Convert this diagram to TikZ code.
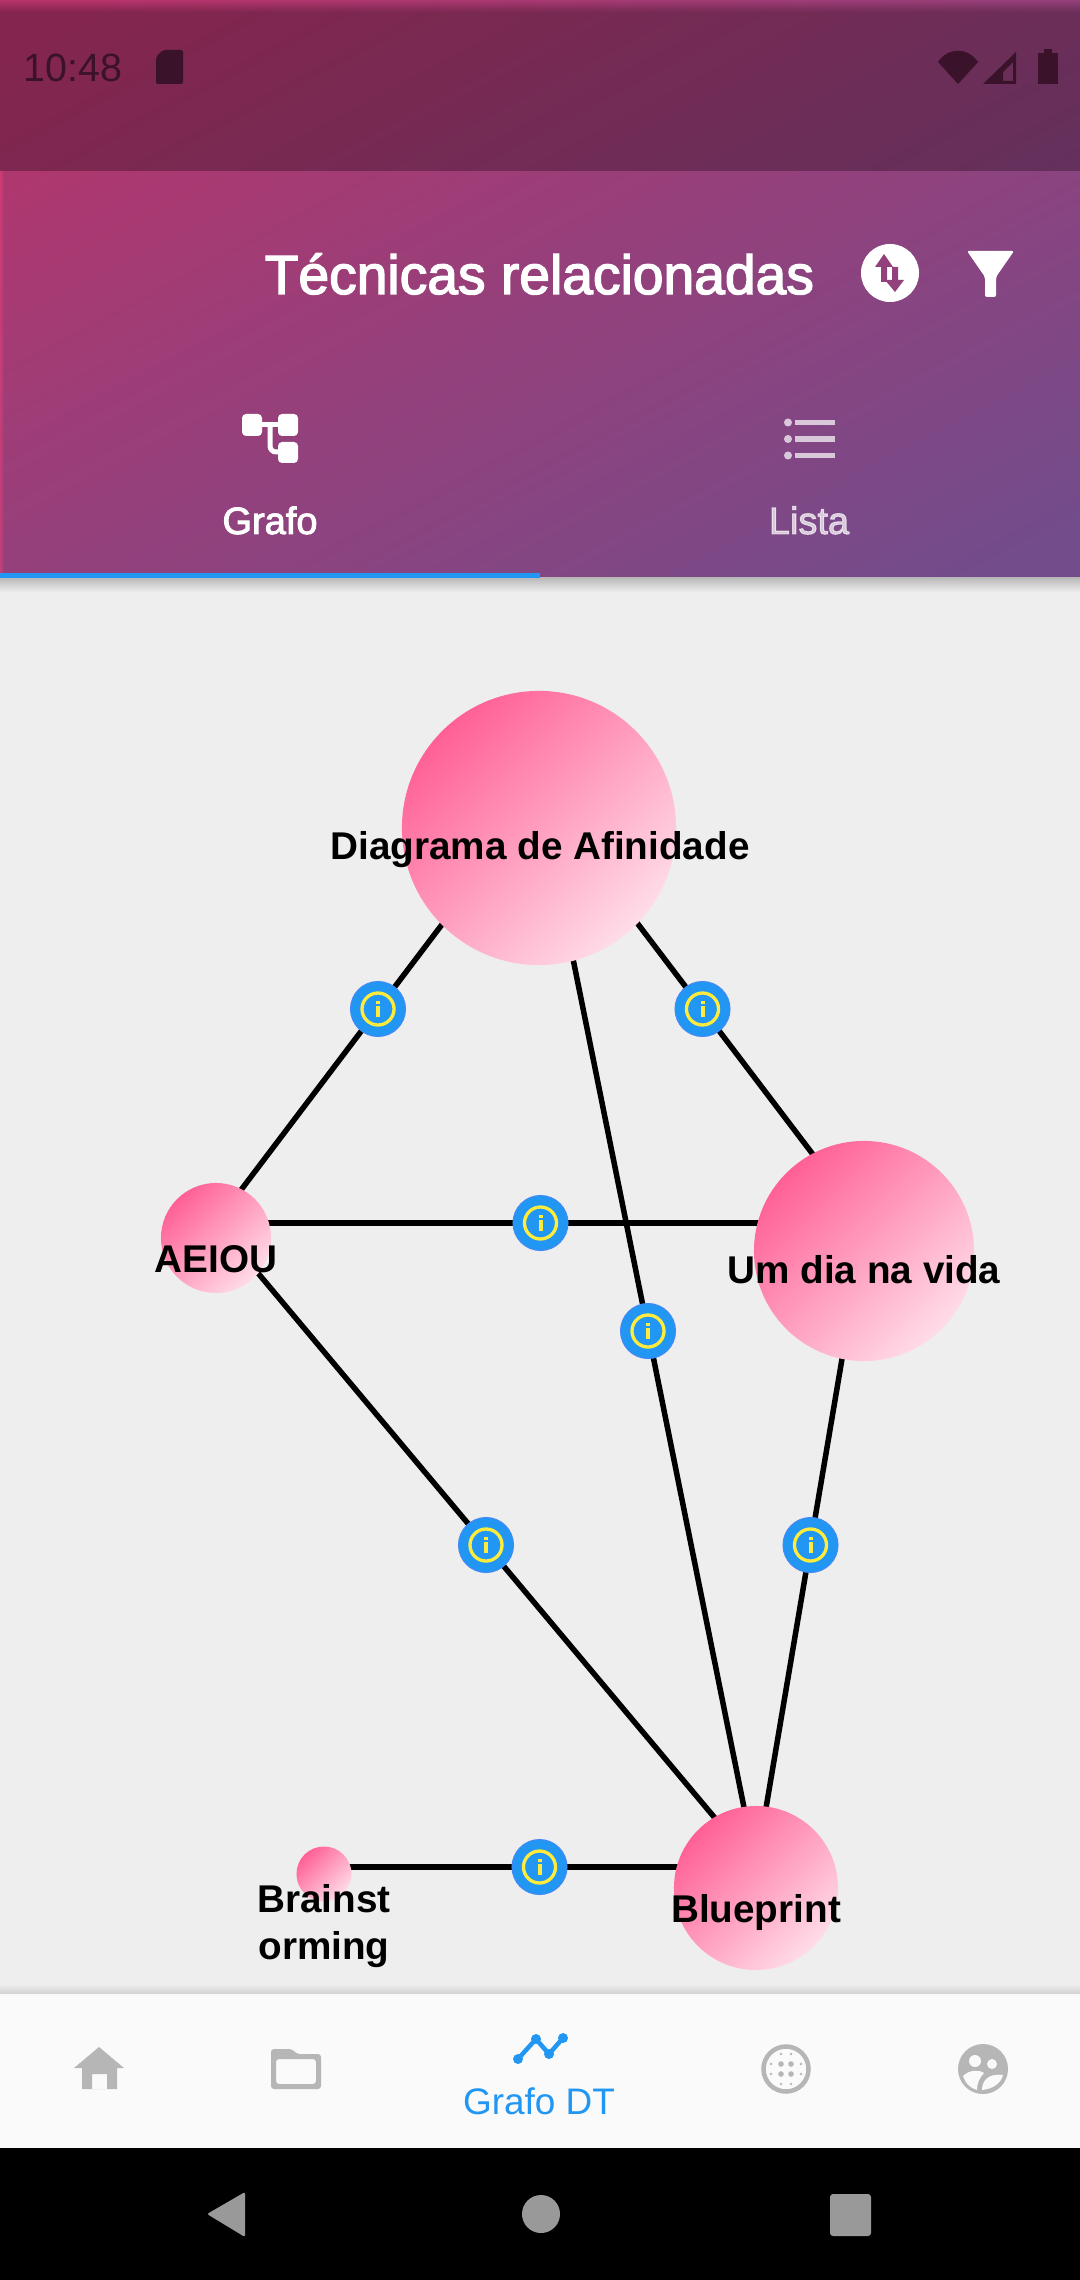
\documentclass[tikz,border=0pt]{standalone}
\usepackage{fontspec}
\usepackage{tikz}
\usetikzlibrary{calc}
\usetikzlibrary{positioning}
\usetikzlibrary{fadings}
\setmainfont{Liberation Sans}
\newfontface\mediumface[FakeBold=2.5]{Liberation Sans}
\definecolor{page-gray}{HTML}{EEEEEE}
\definecolor{nav-white}{HTML}{FAFAFA}
\definecolor{head-pink}{HTML}{B8346B}
\definecolor{head-purple}{HTML}{724C8B}
\definecolor{head-edge}{HTML}{E0407A}
\definecolor{status-ink}{HTML}{3A1229}
\definecolor{accent-blue}{HTML}{2196F3}
\definecolor{badge-ring}{HTML}{448AF5}
\definecolor{badge-yellow}{HTML}{FFEB3B}
\definecolor{icon-gray}{HTML}{B6B6B6}
\definecolor{sys-gray}{HTML}{999999}
\definecolor{bubble-deep}{HTML}{FF6096}
\definecolor{bubble-pale}{HTML}{FFDCE8}
\tikzset{
  wire/.style={line width=0.055cm, black},
  bubble/.style={circle, inner sep=0, left color=bubble-deep, right color=bubble-pale, shading angle=45},
  bubbletext/.style={font=\bfseries\fontsize{11}{13.6}\selectfont, align=center, inner sep=0},
  infobadge/.style={circle, inner sep=0, minimum size=0.55cm, fill=accent-blue, draw=badge-ring, line width=0.01cm,
    path picture={
      \draw[badge-yellow, line width=0.033cm] (path picture bounding box.center) circle (0.16cm);
      \fill[badge-yellow] ($ (path picture bounding box.center) + (-2, -8) $) rectangle ++(4, 3);
      \fill[badge-yellow] ($ (path picture bounding box.center) + (-2, -3) $) rectangle ++(4, 11);
    }},
  tabtext/.style={font=\mediumface\fontsize{10.8}{12}\selectfont, inner sep=0, anchor=base},
}

\begin{document}
\begin{tikzpicture}[x=0.01cm, y=-0.01cm]
\useasboundingbox (0, 0) rectangle (1080, 2280);
% Page
\fill[page-gray] (0, 0) rectangle (1080, 2280);

% ---------------------------------------------------
% Header - Status bar
\begin{scope}
  \clip (0, 0) rectangle (1080, 578);
  \shade[left color=head-pink, right color=head-purple, shading angle=28] (-135, -72) rectangle (1215, 650);
\end{scope}
\fill[black, opacity=0.28] (0, 12) rectangle (1080, 171);
\fill[black, opacity=0.28, path fading=north] (0, 0) rectangle (1080, 12);
\shade[top color=black!22!page-gray, bottom color=page-gray] (0, 578) rectangle (1080, 592);
\fill[head-edge, opacity=0.6, path fading=east] (0, 171) rectangle (4, 578);

\node[font=\fontsize{11.2}{12}\selectfont, text=status-ink, anchor=base west, inner sep=0] (clock) at (23, 82) {10:48};
\fill[status-ink, rounded corners=0.02cm] (163, 50) -- (183, 50) -- (183, 84) -- (156, 84) -- (156, 57) -- cycle;
\fill[status-ink] (938, 62) .. controls (948, 47) and (968, 47) .. (978, 62) -- (958, 84) -- cycle;
\fill[status-ink, even odd rule] (983, 84) -- (1016, 84) -- (1016, 52) -- cycle
     (1003, 81) -- (1013, 81) -- (1013, 62) -- (1003, 72) -- cycle;
\fill[status-ink] (1038, 53) rectangle (1058, 84);
\fill[status-ink] (1044, 49) rectangle (1052, 53);

% Title - actions
\node[font=\mediumface\fontsize{15.7}{18}\selectfont, text=white, anchor=base west, inner sep=0] (title) at (264, 294) {Técnicas relacionadas};
\fill[white] (890, 273) circle (0.29cm);
\fill[head-pink!45!head-purple] (884, 254) -- (893, 267) -- (887, 267) -- (887, 282) -- (881, 282) -- (881, 267) -- (875, 267) -- cycle;
\fill[head-pink!45!head-purple] (895, 292) -- (904, 280) -- (898, 280) -- (898, 267) -- (892, 267) -- (892, 280) -- (885, 280) -- cycle;
\fill[white, rounded corners=0.02cm] (967, 251) -- (1014, 251) -- (996, 277) -- (996, 297) -- (985, 297) -- (985, 277) -- cycle;

% Tabs
\fill[white, rounded corners=0.04cm] (242, 414) rectangle (262, 436);
\fill[white, rounded corners=0.04cm] (278, 414) rectangle (298, 436);
\fill[white, rounded corners=0.04cm] (278, 442) rectangle (298, 463);
\draw[white, line width=0.05cm, rounded corners=0.06cm] (262, 425) -- (278, 425);
\draw[white, line width=0.05cm, rounded corners=0.06cm] (270, 425) -- (270, 452) -- (278, 452);
\node[tabtext, text=white] (grafo) at (270, 534) {Grafo};

\foreach \y in {422.5, 439, 455.5} {
  \fill[white, opacity=0.7] (788, \y) circle (0.04cm);
  \fill[white, opacity=0.7] (795, \y - 2.7) rectangle (835, \y + 2.7);
}
\node[tabtext, text=white, opacity=0.7] (lista) at (809, 534) {Lista};
\fill[accent-blue] (0, 573) rectangle (540, 578);

% ---------------------------------------------------
% Graph anchors
\coordinate[] (diagrama) at (540, 795);
\coordinate[] (aeiou) at (216, 1223);
\coordinate[] (umdia) at (865, 1223);
\coordinate[] (blueprint) at (756, 1867);
\coordinate[] (brainstorm) at (323, 1867);

% Links with info badge
\foreach \a/\b in {aeiou/diagrama, diagrama/umdia, aeiou/umdia, diagrama/blueprint, umdia/blueprint, aeiou/blueprint, brainstorm/blueprint} {
  \path[] (\a) edge[wire] node[infobadge, midway] (info-\a-\b) {} (\b);
}

% Bubbles
\node[bubble, minimum size=2.74cm] (c-diagrama) at (539, 828) {};
\node[bubble, minimum size=1.10cm] (c-aeiou) at (216, 1238) {};
\node[bubble, minimum size=2.20cm] (c-umdia) at (864, 1251) {};
\node[bubble, minimum size=1.64cm] (c-blueprint) at (756, 1888) {};
\node[bubble, minimum size=0.55cm] (c-brainstorm) at (324, 1874) {};

\node[bubbletext] (t-diagrama) at (540, 850) {Diagrama de Afinidade};
\node[bubbletext] (t-aeiou) at (216, 1259) {AEIOU};
\node[bubbletext] (t-umdia) at (864, 1270) {Um dia na vida};
\node[bubbletext] (t-blueprint) at (756, 1912) {Blueprint};
\node[bubbletext] (t-brainstorm) at (324, 1926) {Brainst\\orming};

% ---------------------------------------------------
% Bottom navigation
\shade[top color=page-gray, bottom color=black!12!page-gray] (0, 1984) rectangle (1080, 1994);
\fill[nav-white] (0, 1994) rectangle (1080, 2148);
\fill[black] (0, 2148) rectangle (1080, 2280);

% Home
\fill[icon-gray, even odd rule] (99, 2047) -- (124, 2068) -- (117, 2068) -- (117, 2089) -- (82, 2089) -- (82, 2068) -- (74, 2068) -- cycle
     (92, 2074) rectangle (107, 2089);
% Folder
\fill[icon-gray, rounded corners=0.03cm, even odd rule] (271, 2049) -- (292, 2049) -- (297, 2054) -- (321, 2054) -- (321, 2089) -- (271, 2089) -- cycle
     (276, 2059) rectangle (316, 2084);
% Grafo DT
\draw[accent-blue, line width=0.045cm] (518, 2059) -- (536, 2039) -- (549, 2054) -- (563, 2038);
\foreach \x/\y in {518/2059, 536/2039, 549/2054, 563/2038} {
  \fill[accent-blue] (\x, \y) circle (0.05cm);
}
\node[font=\fontsize{10.5}{12}\selectfont, text=accent-blue, anchor=base, inner sep=0] (grafodt) at (539, 2114) {Grafo DT};
% Dots
\draw[icon-gray, line width=0.045cm] (786, 2069) circle (0.225cm);
\foreach \x/\rx in {-15/0.5, -5/1, 5/1, 15/0.5} {
  \foreach \y/\ry in {-15/0.5, -5/1, 5/1, 15/0.5} {
    \fill[icon-gray] (786 + \x, 2069 + \y) circle ({2.8*\rx*\ry});
  }
}
% People
\fill[icon-gray] (983, 2069) circle (0.25cm);
\fill[nav-white] (975, 2061) circle (0.06cm);
\fill[nav-white] (992, 2064) circle (0.05cm);
\fill[nav-white] (963, 2076) .. controls (970, 2069) and (980, 2070) .. (984, 2073) .. controls (979, 2078) and (977, 2084) .. (977, 2090) .. controls (970, 2088) and (965, 2083) .. (963, 2076) -- cycle;
\fill[nav-white] (982, 2090) .. controls (982, 2081) and (988, 2073) .. (1003, 2075) .. controls (1001, 2083) and (993, 2089) .. (982, 2090) -- cycle;

% System buttons
\fill[sys-gray, rounded corners=0.02cm] (245, 2192) -- (245, 2237) -- (207, 2214) -- cycle;
\fill[sys-gray] (541, 2214) circle (0.19cm);
\fill[sys-gray, rounded corners=0.03cm] (830, 2194) rectangle (871, 2236);
\end{tikzpicture}
\end{document}
